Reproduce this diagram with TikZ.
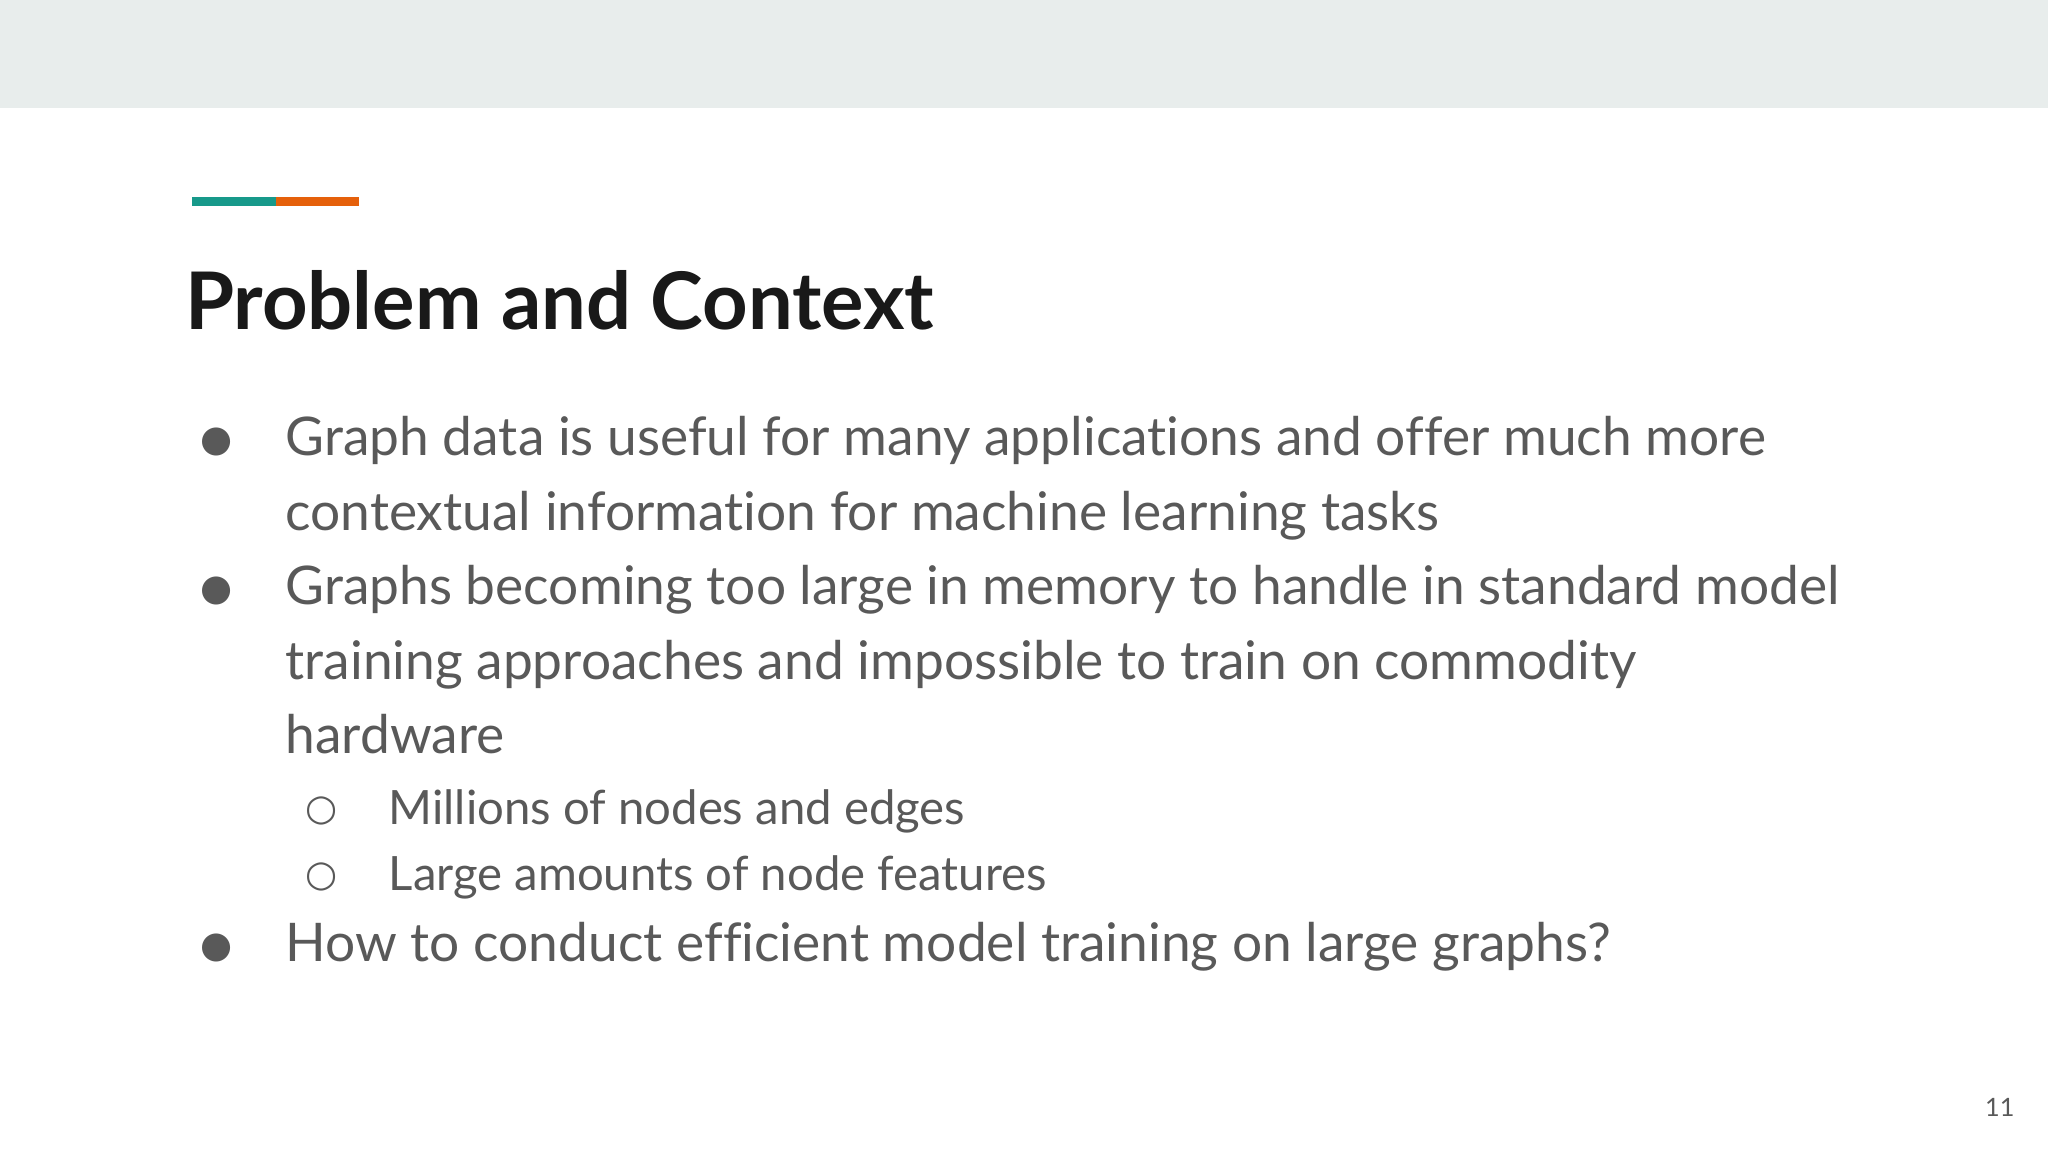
\documentclass[tikz,border=0pt]{standalone}
\usepackage{fontspec}
\setmainfont{Lato}[RawFeature=-liga]
\newfontfamily\symf{DejaVu Sans}
\definecolor{band}{HTML}{E8EDEC}
\definecolor{txt}{HTML}{595959}
\definecolor{teal}{HTML}{17998A}
\definecolor{orng}{HTML}{E5600B}
\begin{document}
\begin{tikzpicture}[x=0.01cm,y=-0.01cm,
  body/.style={anchor=base west,inner sep=0,text=txt,font=\fontsize{11.6pt}{13pt}\selectfont},
  sub/.style={anchor=base west,inner sep=0,text=txt,font=\fontsize{10.3pt}{11pt}\selectfont},
  bul/.style={anchor=base,inner sep=0,text=txt,font=\symf\fontsize{8pt}{10pt}\selectfont}]
\useasboundingbox (0,0) rectangle (1568,882);
\fill[white] (0,0) rectangle (1568,882);
\fill[band] (0,0) rectangle (1568,83);
\fill[teal] (147,151) rectangle (211,158);
\fill[orng] (211,151) rectangle (275,158);
\node[anchor=base west,inner sep=0,font=\fontsize{17.3pt}{20pt}\selectfont\bfseries,text=black!90] (title) at (141,252) {Problem and Context};
\node[body] (l1) at (218,349) {Graph data is useful for many applications and offer much more};
\node[body] (l2) at (218,406) {contextual information for machine learning tasks};
\node[body] (l3) at (218,463) {Graphs becoming too large in memory to handle in standard model};
\node[body] (l4) at (218,520) {training approaches and impossible to train on commodity};
\node[body] (l5) at (218,577) {hardware};
\node[sub] (s1) at (297,631) {Millions of nodes and edges};
\node[sub] (s2) at (297,682) {Large amounts of node features};
\node[body] (l6) at (218,736) {How to conduct efficient model training on large graphs?};
\node[bul] (b1) at (166,346) {●};
\node[bul] (b2) at (166,460) {●};
\node[bul] (b3) at (166,733) {●};
\node[bul] (c1) at (246,628) {○};
\node[bul] (c2) at (246,679) {○};
\node[anchor=base east,inner sep=0,text=txt,font=\fontsize{5.5pt}{6pt}\selectfont] (pg) at (1543,855) {11};
\end{tikzpicture}
\end{document}
